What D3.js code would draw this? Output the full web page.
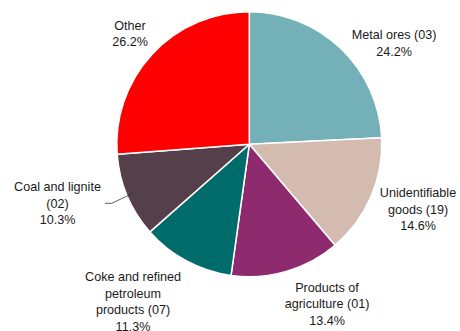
<!DOCTYPE html>
<html>
<head>
<meta charset="utf-8">
<script src="https://cdn.jsdelivr.net/npm/d3@7"></script>
<style>
  html, body { margin: 0; padding: 0; background: #fff; }
  svg { display: block; }
  text { font-family: "Liberation Sans", Arial, sans-serif; font-size: 12.6px; fill: #1a1a1a; }
</style>
</head>
<body>
<svg id="chart" width="460" height="331"></svg>
<script>
// Share of transported goods by category (%)
const categories = [
  "Metal ores (03)",
  "Unidentifiable goods (19)",
  "Products of agriculture (01)",
  "Coke and refined petroleum products (07)",
  "Coal and lignite (02)",
  "Other"
];
const values = [24.2, 14.6, 13.4, 11.3, 10.3, 26.2];
const colors = ["#74b0b7", "#d3bcaf", "#8e2a6e", "#006b6b", "#553f4b", "#ff0000"];

// Label text broken into lines, plus label anchor (x, y of first line centre)
const labelLines = [
  ["Metal ores (03)", "24.2%"],
  ["Unidentifiable", "goods (19)", "14.6%"],
  ["Products of", "agriculture (01)", "13.4%"],
  ["Coke and refined", "petroleum", "products (07)", "11.3%"],
  ["Coal and lignite", "(02)", "10.3%"],
  ["Other", "26.2%"]
];
const labelPos = [
  [394, 35], [418, 193], [327, 287.5], [133, 277], [57.5, 187], [130, 25.5]
];

const svg = d3.select("#chart");
const cx = 249.3, cy = 144.3, r = 132.5;

const pie = d3.pie().sort(null).value(d => d)(values);
const arc = d3.arc().innerRadius(0).outerRadius(r);

const g = svg.append("g").attr("transform", `translate(${cx},${cy})`);
g.selectAll("path")
  .data(pie)
  .join("path")
  .attr("d", arc)
  .attr("fill", (d, i) => colors[i])
  .attr("stroke", "#fff")
  .attr("stroke-width", 1.5)
  .attr("stroke-linejoin", "round");

// Leader line for the coal slice label
const coal = pie[4];
const midA = (coal.startAngle + coal.endAngle) / 2;
const edge = [cx + Math.sin(midA) * (r - 6), cy - Math.cos(midA) * (r - 6)];
svg.append("polyline")
  .attr("points", `105,203.3 111.7,203.3 ${edge[0]},${edge[1]}`)
  .attr("fill", "none")
  .attr("stroke", "#333")
  .attr("stroke-width", 0.8);

const lineH = 16.5;
labelLines.forEach((lines, i) => {
  const t = svg.append("text")
    .attr("text-anchor", "middle")
    .attr("x", labelPos[i][0])
    .attr("y", labelPos[i][1]);
  lines.forEach((s, k) => {
    t.append("tspan")
      .attr("x", labelPos[i][0])
      .attr("y", labelPos[i][1] + k * lineH)
      .attr("dy", "0.35em")
      .text(s);
  });
});
</script>
</body>
</html>
